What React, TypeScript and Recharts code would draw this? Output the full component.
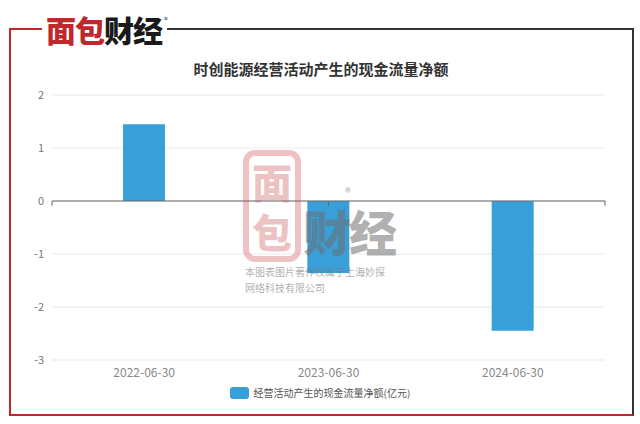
import React from 'react';
import {
  BarChart,
  Bar,
  XAxis,
  YAxis,
  CartesianGrid,
  ReferenceLine,
} from 'recharts';

const periods = ['2022-06-30', '2023-06-30', '2024-06-30'];
const cashFlow = [1.45, -1.36, -2.45];
const yTicks = [-3, -2, -1, 0, 1, 2];

const seriesName = '经营活动产生的现金流量净额(亿元)';
const chartTitle = '时创能源经营活动产生的现金流量净额';

const data = periods.map((p, i) => ({ period: p, value: cashFlow[i] }));
// band edges for the little ticks on the zero line
const bandEdges = Array.from({ length: periods.length + 1 }, (_, i) => i);

const FONT = '"Noto Sans CJK SC", "Noto Sans", sans-serif';
const BLUE = '#389fd9';
const RED = '#c1272d';

const Logo: React.FC = () => (
  <div
    style={{
      position: 'absolute',
      left: 42,
      top: 11,
      padding: '0 5px 0 4px',
      background: '#fff',
      fontFamily: FONT,
      fontWeight: 900,
      fontSize: 30,
      lineHeight: '36px',
      letterSpacing: -1,
    }}
  >
    <span style={{ color: RED }}>面包</span>
    <span style={{ color: '#1a1a1a' }}>财经</span>
    <span style={{ position: 'absolute', left: 122, top: -9, fontSize: 8, fontWeight: 400, color: '#333' }}>®</span>
  </div>
);

const Watermark: React.FC = () => (
  <div style={{ position: 'absolute', left: 243, top: 150, width: 160, height: 145, pointerEvents: 'none', fontFamily: FONT }}>
    <div
      style={{
        position: 'absolute',
        left: 0,
        top: 0,
        width: 46,
        height: 100,
        border: '6px solid rgba(205,80,80,0.35)',
        borderRadius: 12,
        color: 'rgba(205,80,80,0.35)',
        fontWeight: 900,
        fontSize: 40,
        lineHeight: '50px',
        textAlign: 'center',
        overflow: 'hidden',
      }}
    >
      <div>面</div>
      <div>包</div>
    </div>
    <div
      style={{
        position: 'absolute',
        left: 60,
        top: 52,
        color: 'rgba(110,110,110,0.55)',
        fontWeight: 900,
        fontSize: 48,
        lineHeight: '56px',
        letterSpacing: -2,
      }}
    >
      财经
    </div>
    <div style={{ position: 'absolute', left: 102, top: 36, fontSize: 12, lineHeight: '12px', color: 'rgba(110,110,110,0.6)' }}>®</div>
    <div style={{ position: 'absolute', left: 2, top: 114, fontSize: 10, lineHeight: '16px', color: 'rgba(120,120,120,0.6)', whiteSpace: 'nowrap' }}>
      本图表图片著作权属于上海妙探
      <br />
      网络科技有限公司
    </div>
  </div>
);

const App: React.FC = () => {
  return (
    <div style={{ position: 'absolute', left: 0, top: 0, width: 640, height: 424, background: '#fff', fontFamily: FONT }}>
      {/* frame */}
      <div
        style={{
          position: 'absolute',
          left: 9,
          top: 28,
          width: 621,
          height: 384,
          borderLeft: `2px solid ${RED}`,
          borderBottom: `2px solid ${RED}`,
          borderTop: '2px solid #333',
          borderRight: '2px solid #333',
        }}
      />
      <div style={{ position: 'absolute', left: 9, top: 28, width: 34, height: 2, background: RED }} />
      <Logo />

      <div
        style={{
          position: 'absolute',
          left: 0,
          top: 58,
          width: 642,
          textAlign: 'center',
          fontSize: 15,
          fontWeight: 700,
          color: '#333',
        }}
      >
        {chartTitle}
      </div>

      <div style={{ position: 'absolute', left: 0, top: 0 }}>
        <BarChart width={640} height={424} data={data} margin={{ top: 95, right: 35, bottom: 34, left: 0 }}>
          <CartesianGrid vertical={false} stroke="#e9e9e9" />
          <XAxis
            dataKey="period"
            axisLine={false}
            tickLine={false}
            height={30}
            tick={{ fill: '#888', fontSize: 12 }}
          />
          <XAxis xAxisId="edges" type="number" domain={[0, periods.length]} hide />
          <YAxis
            width={52}
            domain={[-3, 2]}
            ticks={yTicks}
            axisLine={false}
            tickLine={false}
            tick={{ fill: '#777', fontSize: 11 }}
          />
          <ReferenceLine y={0} stroke="#666" strokeWidth={1} />
          {bandEdges.map((e) => (
            <ReferenceLine
              key={e}
              xAxisId="edges"
              stroke="#666"
              segment={[
                { x: e, y: 0 },
                { x: e, y: -0.09 },
              ]}
            />
          ))}
          <Bar dataKey="value" fill={BLUE} barSize={42} isAnimationActive={false} />
        </BarChart>
      </div>

      <Watermark />

      <div
        style={{
          position: 'absolute',
          left: 0,
          top: 385,
          width: 640,
          display: 'flex',
          justifyContent: 'center',
          alignItems: 'center',
          fontSize: 10,
          color: '#555',
        }}
      >
        <span style={{ display: 'inline-block', width: 19, height: 12, borderRadius: 3, background: BLUE, marginRight: 5 }} />
        {seriesName}
      </div>
    </div>
  );
};

export default App;
